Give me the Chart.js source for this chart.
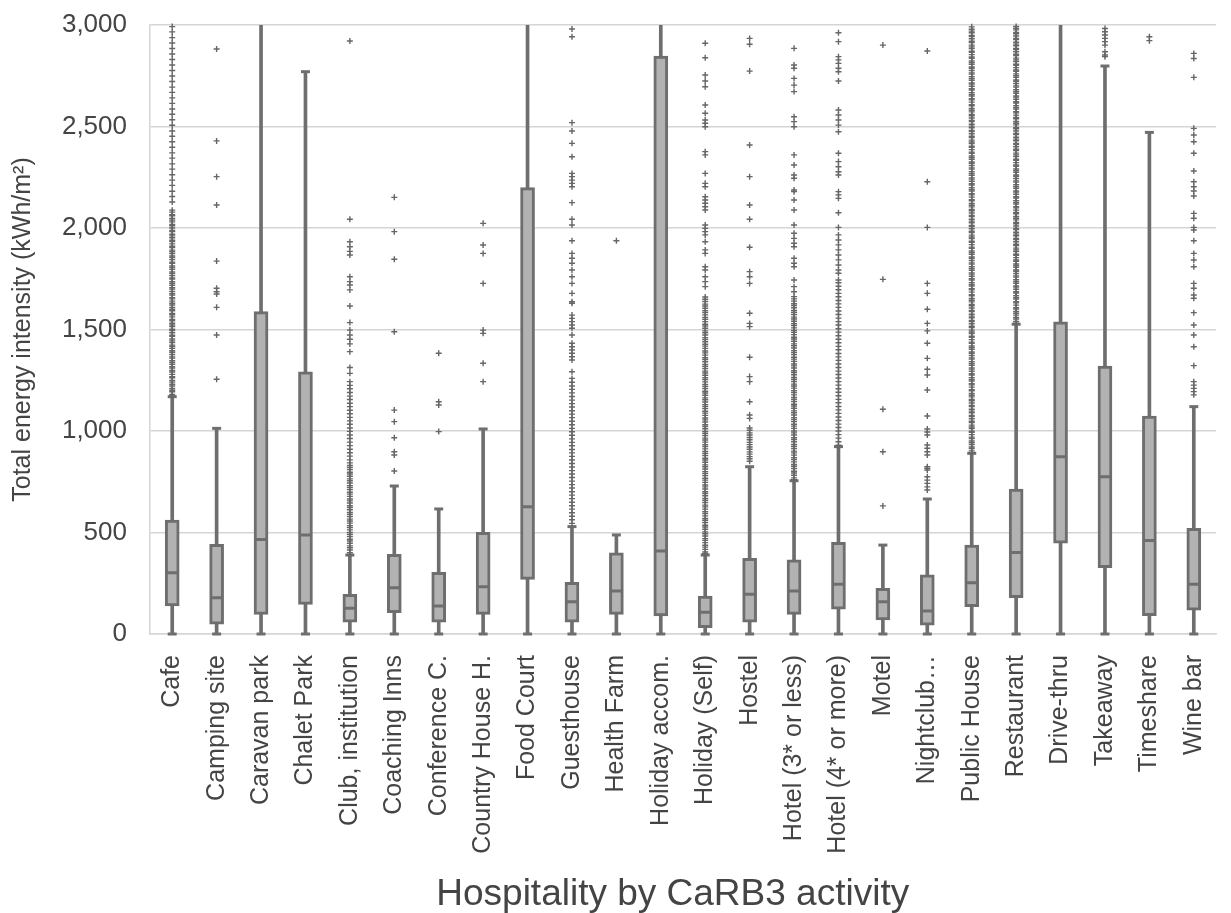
<!DOCTYPE html>
<html>
<head>
<meta charset="utf-8">
<script src="https://cdn.jsdelivr.net/npm/chart.js@4.4.1/dist/chart.umd.min.js"></script>
<style>
  html, body { margin: 0; padding: 0; background: #ffffff; overflow: hidden; }
  #wrap { position: relative; width: 1245px; height: 913px; }
</style>
</head>
<body>
<div id="wrap"><canvas id="chart"></canvas></div>
<script>
// Hospitality activities (CaRB3 classification)
const categories = [
  'Cafe', 'Camping site', 'Caravan park', 'Chalet Park', 'Club, institution',
  'Coaching Inns', 'Conference C.', 'Country House H.', 'Food Court', 'Guesthouse',
  'Health Farm', 'Holiday accom.', 'Holiday (Self)', 'Hostel', 'Hotel (3* or less)',
  'Hotel (4* or more)', 'Motel', 'Nightclub\u2026', 'Public House', 'Restaurant',
  'Drive-thru', 'Takeaway', 'Timeshare', 'Wine bar'
];

// Box statistics, kWh/m2 (upper whiskers above 3,000 run off the top of the axis)
const whiskerLow  = [0, 0, 0, 0, 0, 0, 0, 0, 0, 0, 0, 0, 0, 0, 0, 0, 0, 0, 0, 0, 0, 0, 0, 0];
const quartile1   = [138, 48, 97, 146, 58, 105, 58, 97, 269, 58, 97, 89, 31, 58, 97, 122, 69, 44, 135, 179, 447, 327, 90, 118];
const medianVals  = [302, 179, 466, 488, 127, 228, 138, 233, 627, 159, 212, 409, 107, 196, 212, 245, 159, 113, 253, 402, 873, 775, 460, 245];
const quartile3   = [561, 442, 1588, 1292, 196, 393, 304, 501, 2199, 255, 400, 2847, 187, 373, 365, 452, 225, 291, 438, 714, 1538, 1320, 1074, 521];
const whiskerHigh = [1169, 1013, 3600, 2770, 389, 729, 616, 1010, 3600, 529, 488, 3600, 389, 824, 755, 923, 438, 665, 890, 1526, 3600, 2798, 2471, 1120];

// Outlying buildings per activity
const outCafe = [1172, 1180, 1193, 1201, 1209, 1222, 1230, 1241, 1249, 1262, 1268, 1279, 1291, 1298, 1310, 1317, 1329, 1338, 1346, 1359, 1365, 1377, 1388, 1395, 1407, 1416, 1423, 1436, 1444, 1453, 1466, 1472, 1484, 1495, 1501, 1514, 1522, 1531, 1543, 1550, 1562, 1573, 1579, 1592, 1600, 1609, 1621, 1629, 1640, 1651, 1657, 1670, 1678, 1688, 1699, 1706, 1718, 1727, 1735, 1748, 1754, 1766, 1777, 1784, 1796, 1805, 1813, 1826, 1832, 1844, 1855, 1862, 1874, 1883, 1891, 1904, 1910, 1922, 1933, 1940, 1952, 1961, 1969, 1982, 1988, 2000, 2011, 2018, 2030, 2039, 2047, 2060, 2066, 2078, 2088,
  2128, 2155, 2181, 2210, 2236, 2262, 2290, 2316, 2344, 2370, 2398, 2425, 2452, 2478, 2506, 2533, 2560, 2586, 2614, 2641, 2668, 2694, 2722, 2749, 2776, 2803, 2830, 2857, 2884, 2911, 2938, 2966, 2992];
const outCamping = [2882, 2429, 2253, 2113, 1837, 1703, 1686, 1675, 1609, 1473, 1255];
const outCaravan = [];
const outChalet = [];
const outClub = [2921, 2043, 1932, 1908, 1885, 1867, 1760, 1736, 1719, 1695, 1616, 1534, 1497, 1473, 1452, 1429, 1391, 1313, 1284,
  1243, 1225, 1208, 1190, 1172, 1155, 1137, 1120, 1102, 1085, 1067, 1050, 1033, 1015, 998, 980, 963, 945, 928, 910, 893, 876, 858,
  843, 830, 821, 810, 797, 788, 777, 764, 755, 744, 731, 722, 711, 698, 689, 678, 665, 656, 645, 632, 623, 612, 599, 590, 579, 566, 557, 546, 533, 524, 513, 500, 491, 480, 467, 458, 447, 434, 425, 414, 401, 392];
const outCoaching = [2151, 1982, 1846, 1489, 1103, 1046, 967, 898, 882, 803];
const outConference = [1383, 1144, 1128, 997];
const outCountry = [2023, 1916, 1875, 1727, 1497, 1481, 1334, 1243];
const outFoodCourt = [];
const outGuesthouse = [2980, 2942, 2519, 2478, 2417, 2351, 2269, 2253, 2236, 2220, 2203, 2125, 2043, 2015, 1937, 1875, 1851, 1826, 1793, 1760, 1727, 1678, 1637, 1629, 1571, 1555, 1539, 1522, 1506, 1473,
  1432, 1415, 1399, 1383, 1366, 1350, 1292, 1259, 1240, 1222, 1205, 1188, 1170, 1152, 1135, 1118, 1100, 1083, 1066, 1048, 1031, 1013, 996, 979, 961, 944, 927, 909, 892, 875, 857, 840, 823, 805, 788, 771, 753, 736, 719, 701, 684, 667, 649, 632, 615, 597, 580, 563, 545];
const outHealthFarm = [1937];
const outHolidayAccom = [];
const outHolidaySelf = [2910, 2839, 2754, 2724, 2696, 2606, 2565, 2532, 2516, 2499, 2376, 2360, 2269, 2220, 2203, 2154, 2138, 2122, 2105, 2089, 2015, 1998, 1982, 1966, 1932, 1892, 1875, 1809, 1793, 1760, 1736, 1711,
  1660, 1649, 1638, 1625, 1616, 1605, 1592, 1583, 1572, 1559, 1550, 1539, 1526, 1517, 1506, 1493, 1484, 1473, 1460, 1451, 1440, 1427, 1418, 1407, 1394, 1385, 1374, 1361, 1352, 1341, 1328, 1319, 1308, 1295, 1286, 1275, 1262, 1253, 1242, 1229, 1220, 1209, 1196, 1187, 1176, 1163, 1154, 1143, 1130, 1121, 1110, 1097, 1088, 1077, 1064, 1055, 1044, 1031, 1022, 1011, 998, 989, 978, 965, 956, 945, 932, 923, 912, 899, 890, 879, 866, 857, 846, 833, 824, 813, 800, 791, 780, 767, 758, 747, 734, 725, 714, 701, 692, 681, 668, 659, 648, 635, 626, 615, 602, 593, 582, 569, 560, 549, 536, 527, 516, 503, 494, 483, 470, 461, 450, 437, 428, 417, 404, 395];
const outHostel = [2934, 2905, 2773, 2409, 2253, 2113, 2043, 1905, 1785, 1760, 1727, 1580, 1530, 1514, 1363, 1268, 1243, 1144, 1079, 1062, 1015, 1004, 991, 980, 968, 957, 944, 933, 921, 910, 897, 886, 874, 863, 851];
const outHotel3 = [2885, 2803, 2787, 2737, 2704, 2672, 2548, 2524, 2499, 2360, 2310, 2261, 2245, 2187, 2179, 2138, 2089, 2015, 1974, 1949, 1925, 1908, 1851, 1826, 1809, 1744, 1711, 1686, 1662,
  1651, 1640, 1627, 1618, 1607, 1594, 1585, 1574, 1561, 1552, 1541, 1528, 1519, 1508, 1495, 1486, 1475, 1462, 1453, 1442, 1429, 1420, 1409, 1396, 1387, 1376, 1363, 1354, 1343, 1330, 1321, 1310, 1297, 1288, 1277, 1264, 1255, 1244, 1231, 1222, 1211, 1198, 1189, 1178, 1165, 1156, 1145, 1132, 1123, 1112, 1099, 1090, 1079, 1066, 1057, 1046, 1033, 1024, 1013, 1000, 991, 980, 967, 958, 947, 934, 925, 914, 901, 892, 881, 868, 859, 848, 835, 826, 815, 802, 793, 782, 769, 760];
const outHotel4 = [2962, 2918, 2844, 2828, 2811, 2787, 2770, 2724, 2581, 2557, 2532, 2507, 2474, 2368, 2327, 2302, 2277, 2261, 2179, 2163, 2146, 2075, 2003, 1966, 1941, 1917, 1892, 1867, 1843, 1818, 1793, 1777,
  1744, 1730, 1713, 1696, 1678, 1661, 1643, 1626, 1609, 1591, 1574, 1556, 1539, 1522, 1504, 1487, 1469, 1452, 1435, 1417, 1400, 1382, 1365, 1348, 1330, 1313, 1295, 1278, 1261, 1243, 1226, 1208, 1191, 1174, 1156, 1139, 1121, 1104, 1087, 1069, 1052, 1034, 1017, 1000, 982, 965, 947, 930];
const outMotel = [2901, 1747, 1107, 898, 631];
const outNightclub = [2872, 2228, 2003, 1727, 1678, 1600, 1530, 1493, 1432, 1358, 1304, 1276, 1202, 1074, 1010, 995, 980, 931, 915, 898, 882, 824, 816, 808, 775, 758, 742, 725, 709];
const outPublicHouse = [893, 902, 914, 921, 933, 942, 951, 963, 970, 982, 993, 999, 1012, 1020, 1029, 1042, 1048, 1060, 1071, 1077, 1090, 1098, 1107, 1120, 1126, 1138, 1149, 1155, 1168, 1176, 1185, 1198, 1204, 1216, 1227, 1233, 1246, 1254, 1263, 1276, 1282, 1294, 1305, 1311, 1324, 1332, 1341, 1354, 1360, 1372, 1383, 1389, 1402, 1410, 1419, 1432, 1438, 1450, 1461, 1467, 1480, 1488, 1497, 1510, 1516, 1528, 1539, 1545, 1558, 1566, 1575, 1588, 1594, 1606, 1617, 1623, 1636, 1644, 1653, 1666, 1672, 1684, 1695, 1701, 1714, 1722, 1731, 1744, 1750, 1762, 1773, 1779, 1792, 1800, 1809, 1822, 1828, 1840, 1851, 1857, 1870, 1878, 1887, 1900, 1906, 1918, 1929, 1935, 1948, 1956, 1965, 1978, 1984, 1996, 2007, 2013, 2026, 2034, 2043, 2056, 2062, 2074, 2085, 2091, 2104, 2112, 2121, 2134, 2140, 2152, 2163, 2169, 2182, 2190, 2199, 2212, 2218, 2230, 2241, 2247, 2260, 2268, 2277, 2290, 2296, 2308, 2319, 2325, 2338, 2346, 2355, 2368, 2374, 2386, 2397, 2403, 2416, 2424, 2433, 2446, 2452, 2464, 2475, 2481, 2494, 2502, 2511, 2524, 2530, 2542, 2553, 2559, 2572, 2580, 2589, 2602, 2608, 2620, 2631, 2637, 2650, 2658, 2667, 2680, 2686, 2698, 2709, 2715, 2728, 2736, 2745, 2758, 2764, 2776, 2787, 2793, 2806, 2814, 2823, 2836, 2842, 2854, 2865, 2871, 2884, 2892, 2901, 2914, 2920, 2932, 2943, 2949, 2962, 2970, 2979, 2991];
const outRestaurant = [1531, 1540, 1552, 1559, 1571, 1580, 1589, 1601, 1608, 1620, 1631, 1637, 1650, 1658, 1667, 1680, 1686, 1698, 1709, 1715, 1728, 1736, 1745, 1758, 1764, 1776, 1787, 1793, 1806, 1814, 1823, 1836, 1842, 1854, 1865, 1871, 1884, 1892, 1901, 1914, 1920, 1932, 1943, 1949, 1962, 1970, 1979, 1992, 1998, 2010, 2021, 2027, 2040, 2048, 2057, 2070, 2076, 2088, 2099, 2105, 2118, 2126, 2135, 2148, 2154, 2166, 2177, 2183, 2196, 2204, 2213, 2226, 2232, 2244, 2255, 2261, 2274, 2282, 2291, 2304, 2310, 2322, 2333, 2339, 2352, 2360, 2369, 2382, 2388, 2400, 2411, 2417, 2430, 2438, 2447, 2460, 2466, 2478, 2489, 2495, 2508, 2516, 2525, 2538, 2544, 2556, 2567, 2573, 2586, 2594, 2603, 2616, 2622, 2634, 2645, 2651, 2664, 2672, 2681, 2694, 2700, 2712, 2723, 2729, 2742, 2750, 2759, 2772, 2778, 2790, 2801, 2807, 2820, 2828, 2837, 2850, 2856, 2868, 2879, 2885, 2898, 2906, 2915, 2928, 2934, 2946, 2957, 2963, 2976, 2984, 2993];
const outDriveThru = [];
const outTakeaway = [2983, 2967, 2951, 2934, 2918, 2901, 2868, 2852, 2844];
const outTimeshare = [2942, 2923];
const outWineBar = [2860, 2835, 2742, 2491, 2458, 2425, 2368, 2281, 2228, 2203, 2182, 2158, 2072, 2048, 2003, 1990, 1937, 1875, 1842, 1809, 1727, 1703, 1670, 1654, 1583, 1522, 1473, 1415, 1322, 1243, 1226, 1210, 1194, 1178];

const outlierLists = [
  outCafe, outCamping, outCaravan, outChalet, outClub, outCoaching, outConference, outCountry,
  outFoodCourt, outGuesthouse, outHealthFarm, outHolidayAccom, outHolidaySelf, outHostel, outHotel3,
  outHotel4, outMotel, outNightclub, outPublicHouse, outRestaurant, outDriveThru, outTakeaway,
  outTimeshare, outWineBar
];

const yTicks = [0, 500, 1000, 1500, 2000, 2500, 3000];

const outlierPoints = [];
outlierLists.forEach((list, i) => {
  list.forEach(v => outlierPoints.push({ x: categories[i], y: v }));
});

const INK = '#6e6e6e';
const TEXT = '#444444';
const GRID = '#d5d5d5';
const FONT = "'Liberation Sans', Arial, sans-serif";
const NBSP = '\u00A0';

new Chart(document.getElementById('chart'), {
  type: 'bar',
  data: {
    labels: categories,
    datasets: [
      {
        type: 'line',
        label: 'Outliers',
        data: outlierPoints,
        showLine: false,
        pointStyle: 'cross',
        pointRadius: 3,
        pointBorderWidth: 1.4,
        borderColor: '#666666',
        pointBorderColor: '#666666',
        pointBackgroundColor: '#666666',
        order: 0,
        clip: 4
      },
      {
        type: 'line',
        label: 'Median',
        data: medianVals,
        showLine: false,
        pointStyle: 'line',
        pointRadius: 6.5,
        pointBorderWidth: 3,
        borderColor: INK,
        pointBorderColor: INK,
        order: 1
      },
      {
        type: 'line',
        label: 'Upper whisker',
        data: whiskerHigh,
        showLine: false,
        pointStyle: 'line',
        pointRadius: 4.5,
        pointBorderWidth: 3,
        borderColor: INK,
        pointBorderColor: INK,
        order: 2,
        clip: 3
      },
      {
        type: 'line',
        label: 'Lower whisker',
        data: whiskerLow,
        showLine: false,
        pointStyle: 'line',
        pointRadius: 4.5,
        pointBorderWidth: 3,
        borderColor: INK,
        pointBorderColor: INK,
        order: 2,
        clip: 3
      },
      {
        label: 'Interquartile range',
        data: quartile1.map((v, i) => [v, quartile3[i]]),
        backgroundColor: '#b2b2b2',
        borderColor: INK,
        borderWidth: 3,
        borderSkipped: false,
        barThickness: 14,
        grouped: false,
        order: 3,
        clip: 0
      },
      {
        label: 'Whiskers',
        data: whiskerLow.map((v, i) => [v, whiskerHigh[i]]),
        backgroundColor: INK,
        borderWidth: 0,
        barThickness: 3,
        grouped: false,
        order: 4,
        clip: 0
      }
    ]
  },
  options: {
    responsive: true,
    maintainAspectRatio: false,
    devicePixelRatio: 1,
    animation: false,
    events: [],
    layout: { padding: { left: 0, right: 6, top: 25, bottom: 0 } },
    plugins: {
      legend: { display: false },
      tooltip: { enabled: false }
    },
    scales: {
      x: {
        type: 'category',
        offset: true,
        grid: { display: false, drawTicks: false },
        border: { display: true, color: GRID, width: 1.5 },
        ticks: {
          autoSkip: false,
          minRotation: 90,
          maxRotation: 90,
          padding: 21,
          color: TEXT,
          font: { family: FONT, size: 25 }
        },
        title: {
          display: true,
          text: 'Hospitality by CaRB3 activity' + NBSP.repeat(2),
          color: TEXT,
          font: { family: FONT, size: 37 },
          padding: { top: 0, bottom: -4 }
        },
        afterFit: (scale) => { scale.height = 279; }
      },
      y: {
        type: 'linear',
        min: 0,
        max: 3000,
        afterBuildTicks: (scale) => { scale.ticks = yTicks.map(v => ({ value: v })); },
        grid: { color: GRID, lineWidth: 1.5, drawTicks: true, tickLength: 23, tickColor: 'rgba(0,0,0,0)' },
        border: { display: true, color: GRID, width: 1.5 },
        ticks: {
          padding: 0,
          color: TEXT,
          font: { family: FONT, size: 26 },
          callback: (v) => Number(v).toLocaleString('en-US')
        },
        title: {
          display: true,
          text: 'Total energy intensity (kWh/m\u00B2)',
          color: TEXT,
          font: { family: FONT, size: 25 },
          padding: { top: 8, bottom: 0 }
        },
        afterFit: (scale) => { scale.width = 150; }
      }
    }
  }
});
</script>
</body>
</html>
